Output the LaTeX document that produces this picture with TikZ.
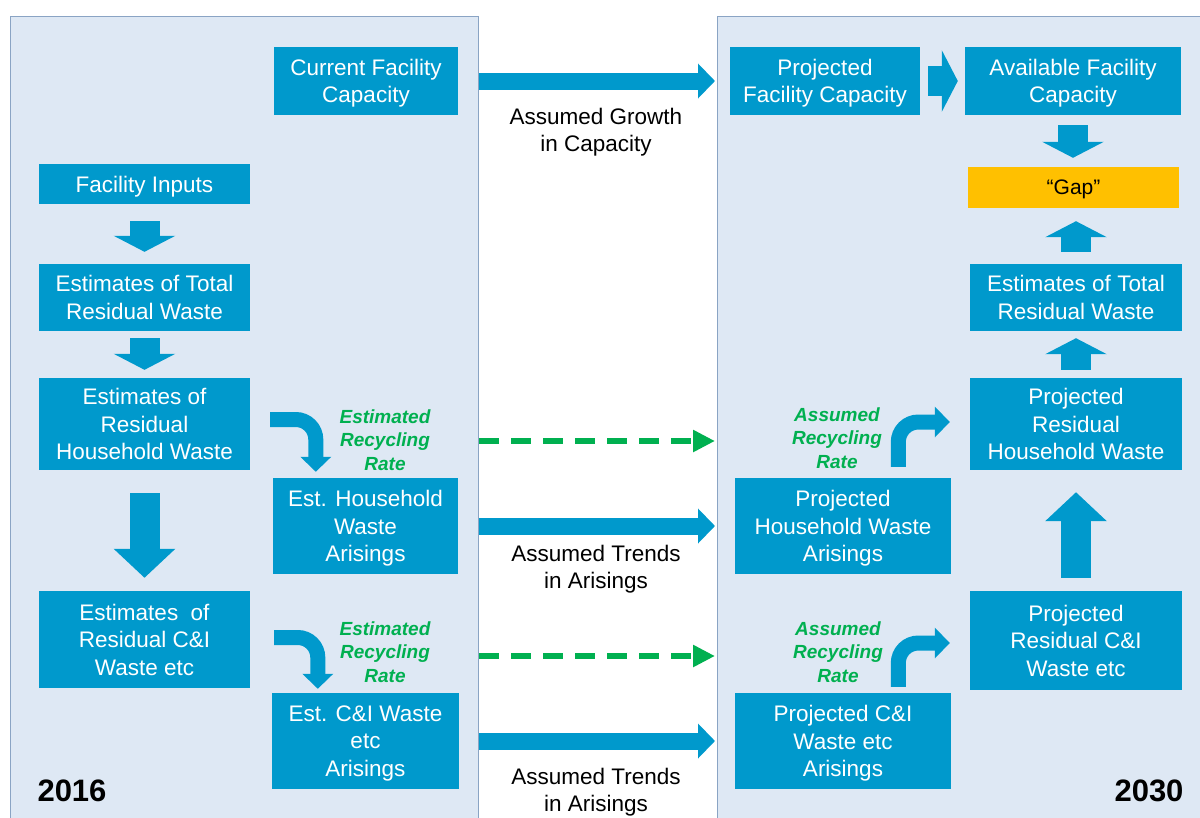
\documentclass[tikz,border=0pt]{standalone}
\usepackage{fontspec}
\setmainfont{Liberation Sans}
\usetikzlibrary{arrows.meta,calc,positioning}

\definecolor{boxblue}{HTML}{0099CC}
\definecolor{panelfill}{HTML}{DEE8F4}
\definecolor{paneledge}{HTML}{8AA4C4}
\definecolor{recgreen}{HTML}{00B050}
\definecolor{gapyellow}{HTML}{FFC000}

\tikzset{
  panel/.style={draw=paneledge, fill=panelfill, line width=1.2pt, anchor=north west, inner sep=0pt},
  stage/.style={fill=boxblue, text=white, align=center, inner sep=0pt, text depth=0pt,
    font=\fontsize{22.5}{27.5}\selectfont},
  gapbox/.style={fill=gapyellow, text=black, align=center, inner sep=0pt, text depth=0pt,
    font=\fontsize{21}{25}\selectfont},
  note/.style={align=center, text depth=0pt, font=\fontsize{22.5}{27.5}\selectfont},
  recnote/.style={align=center, text=recgreen, font=\fontsize{19}{23.5}\selectfont\bfseries\itshape},
  year/.style={font=\fontsize{31}{31}\selectfont\bfseries},
  flow/.style={boxblue, line width=30pt, -{Triangle[width=61pt,length=16pt]}},
  bigflow/.style={boxblue, line width=30pt, -{Triangle[width=60pt,length=29pt]}},
  trend/.style={boxblue, line width=17pt, -{Triangle[width=34pt,length=17pt]}},
  recflow/.style={recgreen, line width=6pt, dash pattern=on 20pt off 12pt,
    -{Triangle[width=21pt,length=22pt]}},
  bendflow/.style={boxblue, line width=15pt, rounded corners=20pt,
    -{Triangle[width=30pt,length=15pt]}},
}

\begin{document}
\begin{tikzpicture}[x=1pt, y=-1pt]
  \useasboundingbox (0,0) rectangle (1200,817);
  \clip (0,0) rectangle (1200,817);

  % the two years
  \node[panel, minimum width=468pt, minimum height=814pt] (p2016) at (10,16) {};
  \node[panel, minimum width=500pt, minimum height=814pt] (p2030) at (717,16) {};

  % 2016 side
  \node[stage, minimum width=184pt, minimum height=68pt] (curcap) at (366,81) {Current Facility\\Capacity};
  \node[stage, minimum width=211pt, minimum height=40pt] (facin) at (144.5,184) {Facility Inputs};
  \node[stage, minimum width=211pt, minimum height=67pt] (esttot) at (144.5,297.5) {Estimates of Total\\Residual Waste};
  \node[stage, minimum width=211pt, minimum height=92pt] (resthh) at (144.5,424) {Estimates of\\Residual\\Household Waste};
  \node[stage, minimum width=185pt, minimum height=96pt] (esthha) at (365.5,526) {Est. Household\\Waste\\Arisings};
  \node[stage, minimum width=211pt, minimum height=97pt] (rescni) at (144.5,639.5) {Estimates\ \ of\\Residual C\&I\\Waste etc};
  \node[stage, minimum width=187pt, minimum height=96pt] (estcnia) at (365.5,741) {Est. C\&I Waste\\etc\\Arisings};

  % 2030 side
  \node[stage, minimum width=190pt, minimum height=68pt] (projcap) at (825,81) {Projected\\Facility Capacity};
  \node[stage, minimum width=216pt, minimum height=68pt] (availcap) at (1073,81) {Available Facility\\Capacity};
  \node[gapbox, minimum width=211pt, minimum height=41pt] (gap) at (1073.5,187.5) {“Gap”};
  \node[stage, minimum width=212pt, minimum height=67pt] (projtot) at (1076,297.5) {Estimates of Total\\Residual Waste};
  \node[stage, minimum width=212pt, minimum height=92pt] (projreshh) at (1076,424) {Projected\\Residual\\Household Waste};
  \node[stage, minimum width=216pt, minimum height=96pt] (projhha) at (843,526) {Projected\\Household Waste\\Arisings};
  \node[stage, minimum width=212pt, minimum height=99pt] (projrescni) at (1076,640.5) {Projected\\Residual C\&I\\Waste etc};
  \node[stage, minimum width=216pt, minimum height=96pt] (projcnia) at (843,741) {Projected C\&I\\Waste etc\\Arisings};

  \node[year] (y2016) at (72,791) {2016};
  \node[year] (y2030) at (1149,791) {2030};

  % block arrows inside the panels
  \draw[flow, shorten <=17pt, shorten >=12pt] (facin.south) -- (esttot.north);
  \draw[flow, shorten <=7pt, shorten >=8pt] (esttot.south) -- (resthh.north);
  \draw[bigflow, shorten <=23pt, shorten >=13pt] (resthh.south) -- (rescni.north);
  \draw[flow, shorten <=8pt, shorten >=7pt] (projcap.east) -- (availcap.west);
  \draw[flow, shorten <=10pt, shorten >=9pt] (availcap.south) -- (availcap.south |- gap.north);
  \draw[flow, shorten <=12pt, shorten >=13pt] (projtot.north) -- (projtot.north |- gap.south);
  \draw[flow, shorten <=8pt, shorten >=7pt] (projreshh.north) -- (projtot.south);
  \draw[bigflow, shorten <=13pt, shorten >=22pt] (projrescni.north) -- (projreshh.south);

  % recycling rates
  \draw[bendflow] ($(resthh.east)+(20,-4.5)$) -| ($(esthha.north west)+(43,-6)$);
  \draw[bendflow] ($(rescni.east)+(24,-2)$) -| ($(estcnia.north west)+(46,-4)$);
  \draw[bendflow] ($(projhha.north west)+(163.5,-11)$) |- ($(projreshh.west)+(-20,-2)$);
  \draw[bendflow] ($(projcnia.north west)+(163.5,-6)$) |- ($(projrescni.west)+(-20,2.5)$);

  \node[recnote] (recl1) at (385,440) {Estimated\\Recycling\\Rate};
  \node[recnote] (recl2) at (385,652) {Estimated\\Recycling\\Rate};
  \node[recnote] (recr1) at (837,438) {Assumed\\Recycling\\Rate};
  \node[recnote] (recr2) at (838,652) {Assumed\\Recycling\\Rate};

  % from 2016 to 2030
  \draw[trend] (p2016.east |- curcap) -- ([xshift=-2pt]p2030.west |- curcap);
  \draw[trend] (p2016.east |- esthha) -- ([xshift=-2pt]p2030.west |- esthha);
  \draw[trend] (p2016.east |- estcnia) -- ([xshift=-2pt]p2030.west |- estcnia);
  \draw[recflow] ($(p2016.east |- resthh)+(0,17)$) -- ($(p2030.west |- resthh)+(-2,17)$);
  \draw[recflow] ($(p2016.east |- rescni)+(0,16.5)$) -- ($(p2030.west |- rescni)+(-2,16.5)$);

  \node[note] (growth) at (596,130) {Assumed Growth\\in Capacity};
  \node[note] (trend1) at (596,567) {Assumed Trends\\in Arisings};
  \node[note] (trend2) at (596,790) {Assumed Trends\\in Arisings};
\end{tikzpicture}
\end{document}
